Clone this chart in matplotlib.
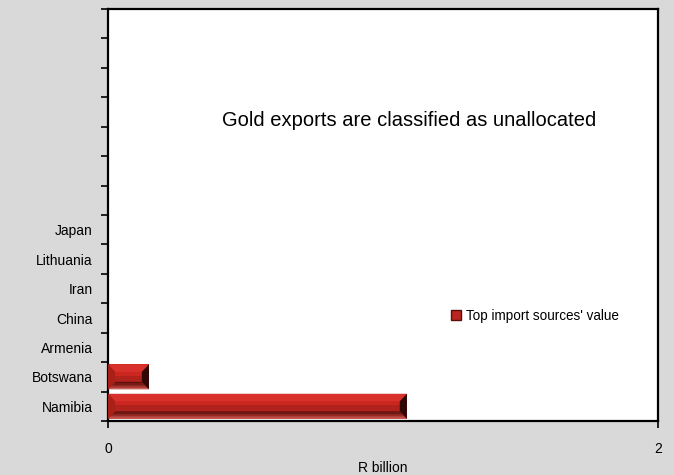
import numpy as np
import matplotlib.pyplot as plt
from matplotlib.patches import Polygon, Patch

# categories bottom -> top, blank slots at the top of the axis
countries = ["Namibia", "Botswana", "Armenia", "China", "Iran", "Lithuania", "Japan",
             "", "", "", "", "", "", ""]
values = [1.087, 0.149, 0.002, 0.001, 0.001, 0.001, 0.001,
          0, 0, 0, 0, 0, 0, 0]
x_ticks = [0, 2]
note = "Gold exports are classified as unallocated"
series_name = "Top import sources' value"

plt.rcParams['font.family'] = ['Liberation Sans', 'DejaVu Sans']

fig = plt.figure(figsize=(6.74, 4.75), dpi=100)
fig.patch.set_facecolor('#d9d9d9')
ax = fig.add_axes([108/674, 1-421/475, 550/674, 412/475])
ax.set_facecolor('white')

y = np.arange(len(countries))
h = 0.85
bars = ax.barh(y, values, height=h, color='#cc2620', edgecolor='none', zorder=2)


def band(x0, x1, ya, yb, c, z=3):
    ax.add_patch(Polygon([(x0, ya), (x1, ya), (x1, yb), (x0, yb)],
                         closed=True, color=c, lw=0, zorder=z))


# bevel look on each bar, built from the bar geometry
bx = 0.026  # bevel width in x (data units)
for b in bars:
    x0, y0, w, hh = b.get_x(), b.get_y(), b.get_width(), b.get_height()
    if w <= 0.01:
        continue
    by = hh * 0.3
    x1, y1 = x0 + w, y0 + hh
    # front face: bright upper part, darker lower part
    band(x0, x1, y0 + by, y0 + hh * 0.55, '#b2221c')
    # top bevel (light)
    ax.add_patch(Polygon([(x0, y1), (x1, y1), (x1 - bx, y1 - by), (x0 + bx, y1 - by)],
                         closed=True, color='#d8302a', lw=0, zorder=3))
    # bottom bevel, dark inside to pink at the edge
    cols = ['#c9605a', '#a8423c', '#8a2a24', '#6e1a14', '#5a120e']
    n = len(cols)
    for i, c in enumerate(cols):
        ya = y0 + by * i / n
        yb = y0 + by * (i + 1) / n
        ax.add_patch(Polygon([(x0 + bx * i / n, ya), (x1 - bx * i / n, ya),
                              (x1 - bx * (i + 1) / n, yb), (x0 + bx * (i + 1) / n, yb)],
                             closed=True, color=c, lw=0, zorder=3))
    # left bevel
    ax.add_patch(Polygon([(x0, y0), (x0, y1), (x0 + bx, y1 - by), (x0 + bx, y0 + by)],
                         closed=True, color='#a82018', lw=0, zorder=4))
    # right bevel (dark)
    ax.add_patch(Polygon([(x1, y0), (x1, y1), (x1 - bx, y1 - by), (x1 - bx, y0 + by)],
                         closed=True, color='#300806', lw=0, zorder=4))

ax.set_xlim(0, 2)
ax.set_ylim(-0.5, len(countries) - 0.5)

ax.set_xticks(x_ticks)
ax.set_xticklabels([str(t) for t in x_ticks], fontsize=10)
ax.tick_params(axis='x', direction='out', length=5, width=1.2, pad=10)

ax.set_yticks(np.arange(len(countries) + 1) - 0.5)
ax.set_yticklabels([])
ax.set_yticks(y, minor=True)
ax.set_yticklabels(countries, minor=True, fontsize=10)
ax.tick_params(axis='y', which='major', direction='out', length=5, width=1.2)
ax.tick_params(axis='y', which='minor', length=0, pad=11)

for s in ax.spines.values():
    s.set_color('black')
    s.set_linewidth(1.6)

ax.set_xlabel("R billion", fontsize=10, labelpad=4)

ax.text(0.547, 0.73, note, transform=ax.transAxes, ha='center', va='center', fontsize=14.5)

leg = ax.legend(handles=[Patch(facecolor='#b8261f', edgecolor='#5a0e0a', label=series_name)],
                loc='center left', bbox_to_anchor=(0.602, 0.255), frameon=False,
                fontsize=9.75, handlelength=0.7, handleheight=0.7, handletextpad=0.4)

fig.savefig('out.png', dpi=100, facecolor=fig.get_facecolor())
